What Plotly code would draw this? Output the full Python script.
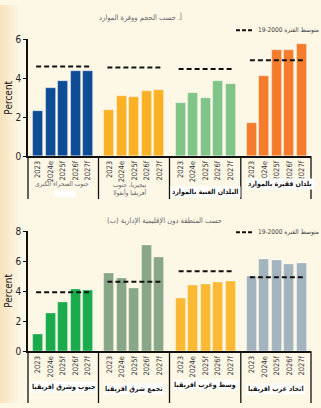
import plotly.graph_objects as go

# ---------------- data ----------------
years = ["2023", "2024e", "2025f", "2026f", "2027f"]

top_groups = ["جنوب الصحراء الكبرى", "نيجيريا، جنوب<br>أفريقيا وأنغولا",
              "البلدان الغنية بالموارد", "بلدان فقيرة بالموارد"]
top_ssa = [2.33, 3.50, 3.83, 4.37, 4.37]
top_nsa = [2.37, 3.08, 3.05, 3.35, 3.38]
top_rich = [2.70, 3.22, 3.00, 3.83, 3.67]
top_poor = [1.70, 4.12, 5.42, 5.42, 5.72]
top_avg = [4.60, 4.55, 4.47, 4.92]

bot_groups = ["جنوب وشرق افريقيا", "تجمع شرق افريقيا",
              "وسط وغرب افريقيا", "اتحاد غرب افريقيا"]
bot_se = [1.12, 2.53, 3.25, 4.11, 4.07]
bot_eac = [5.19, 4.85, 4.20, 7.10, 6.30]
bot_cw = [3.55, 4.42, 4.44, 4.61, 4.69]
bot_waemu = [5.02, 6.12, 6.06, 5.80, 5.89]
bot_avg = [3.94, 4.63, 5.34, 4.94]

top_colors = ["#0e4c96", "#fbb126", "#80c488", "#f47c2c"]
bot_colors = ["#1aab4c", "#89a787", "#fbb934", "#a4b4bf"]

title_a = "أ. حسب الحجم ووفرة الموارد"
title_b = "حسب المنطقة دون الإقليمية الإدارية (ب)"
legend_text = "19-2000 متوسط الفترة"

# ---------------- layout helpers ----------------
W, H = 321, 408
L, R = 28, 10
PW = W - L - R
GP = 5.7  # group pitch in bar units
BG = "#fdf7e6"
NARROW = "Liberation Sans Narrow, DejaVu Sans Condensed, Liberation Sans, Arial"
AR = "DejaVu Sans Condensed, DejaVu Sans, sans-serif"


def px(x):
    return (x - L) / PW


def py(y):
    return 1 - y / H


fig = go.Figure()

panels = [
    dict(series=[top_ssa, top_nsa, top_rich, top_poor], avg=top_avg,
         colors=top_colors, xa="x", ya="y"),
    dict(series=[bot_se, bot_eac, bot_cw, bot_waemu], avg=bot_avg,
         colors=bot_colors, xa="x2", ya="y2"),
]

tickvals, ticktext = [], []
for g in range(4):
    for i, yr in enumerate(years):
        tickvals.append(g * GP + i)
        ticktext.append(yr)

for p in panels:
    for g, vals in enumerate(p["series"]):
        xs = [g * GP + i for i in range(len(vals))]
        fig.add_trace(go.Bar(
            x=xs, y=vals, width=0.8, xaxis=p["xa"], yaxis=p["ya"],
            marker=dict(color=p["colors"][g],
                        line=dict(color="rgba(255,255,255,0.45)", width=0.8)),
            showlegend=False, hoverinfo="skip"))
        fig.add_trace(go.Scatter(
            x=[g * GP - 0.15, g * GP + 4.15], y=[p["avg"][g]] * 2,
            xaxis=p["xa"], yaxis=p["ya"], mode="lines",
            line=dict(color="#111", width=2, dash="5px,3px"),
            showlegend=False, hoverinfo="skip"))

xr = [-0.8, -0.8 + PW / 12.5]
axis_common = dict(showgrid=False, zeroline=False, showline=True,
                   linecolor="#111", linewidth=1.5)
xtick = dict(tickvals=tickvals, ticktext=ticktext, tickangle=-90, ticks="",
             tickfont=dict(family=NARROW, size=7.5, color="#333"))
ytick = dict(ticks="outside", ticklen=3, tickcolor="#111", tickwidth=1.2,
             tickfont=dict(family=NARROW, size=10, color="#222"))
fig.update_layout(
    xaxis=dict(domain=[0, 1], range=xr, anchor="y", **xtick, **axis_common),
    yaxis=dict(domain=[py(155), py(35)], range=[0, 6], anchor="x",
               tickvals=[0, 2, 4, 6], **ytick, **axis_common),
    xaxis2=dict(domain=[0, 1], range=xr, anchor="y2", **xtick, **axis_common),
    yaxis2=dict(domain=[py(355), py(232)], range=[0, 8], anchor="x2",
                tickvals=[0, 2, 4, 6, 8], **ytick, **axis_common),
    width=W, height=H,
    margin=dict(l=L, r=R, t=0, b=0, pad=0),
    paper_bgcolor=BG, plot_bgcolor=BG,
    bargap=0, showlegend=False,
)

shapes = []
# warm gradient on left edge
for k in range(12):
    x0 = k * 1.5
    shapes.append(dict(type="rect", xref="paper", yref="paper",
                       x0=px(x0), x1=px(x0 + 1.6), y0=0, y1=1,
                       fillcolor="#f5d49a", opacity=0.55 * (1 - k / 12),
                       line=dict(width=0), layer="below"))

# dividers under axes
for (ytop, ybot) in [(155, 199), (355, 408)]:
    for xd in [28, 98.5, 169.5, 240.8, 311]:
        shapes.append(dict(type="line", xref="paper", yref="paper",
                           x0=px(xd), x1=px(xd), y0=py(ytop), y1=py(ybot),
                           line=dict(color="#111", width=1.3)))

# legend dashes
for ly in [26, 233]:
    shapes.append(dict(type="line", xref="paper", yref="paper",
                       x0=px(236), x1=px(254), y0=py(ly), y1=py(ly),
                       line=dict(color="#111", width=2, dash="4px,2px")))

# white patches
for (x0, x1, y0, y1) in [(55, 76, 190, 197)]:
    shapes.append(dict(type="rect", xref="paper", yref="paper",
                       x0=px(x0), x1=px(x1), y0=py(y1), y1=py(y0),
                       fillcolor="white", line=dict(width=0)))
fig.update_layout(shapes=shapes)

ann = []


def add_text(text, x, y, size=8, color="#555", bold=False, bg=None,
             xanchor="center", angle=0, font=AR):
    ann.append(dict(text=("<b>%s</b>" % text) if bold else text,
                    x=px(x), y=py(y), xref="paper", yref="paper",
                    showarrow=False, xanchor=xanchor, yanchor="middle",
                    textangle=angle, bgcolor=bg, borderpad=1,
                    font=dict(family=font, size=size, color=color)))


add_text(title_a, 140, 12, size=7.5, color="#666")
add_text(title_b, 164, 221, size=7.5, color="#666")
add_text(legend_text, 256, 26, size=6.5, color="#444", xanchor="left")
add_text(legend_text, 256, 233, size=6.5, color="#444", xanchor="left")
add_text("Percent", 9, 95, size=10, color="#111", angle=-90, font=NARROW)
add_text("Percent", 9, 293, size=10, color="#111", angle=-90, font=NARROW)

add_text(top_groups[0], 62, 184, size=6.5, color="#666")
add_text(top_groups[1], 130, 189, size=6.5, color="#666")
add_text(top_groups[2], 205, 192, size=7, color="#111", bold=True, bg="white")
add_text(top_groups[3], 280, 184, size=7, color="#111", bold=True, bg="white")

add_text(bot_groups[0], 63, 392, size=7, color="#111", bold=True, bg="white")
add_text(bot_groups[1], 134, 394, size=7, color="#111", bold=True, bg="white")
add_text(bot_groups[2], 205, 390, size=7, color="#111", bold=True, bg="white")
add_text(bot_groups[3], 276, 394, size=7, color="#111", bold=True, bg="white")

fig.update_layout(annotations=ann)

fig.write_html("out.html")
